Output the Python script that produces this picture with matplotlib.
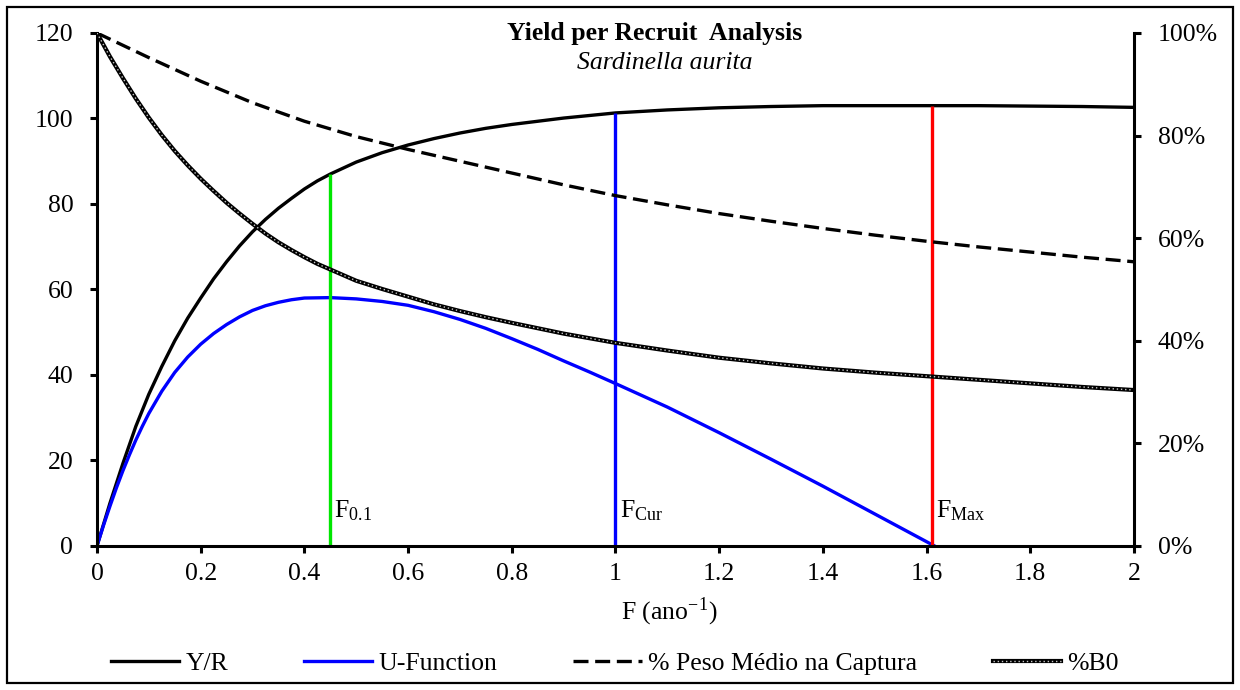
# -*- coding: utf-8 -*-

"""
yield per recruit plot for Sardinella aurita
"""

import matplotlib
matplotlib.use('Agg')
import matplotlib.pyplot as plt
from matplotlib.patches import Rectangle
from matplotlib.ticker import PercentFormatter, MultipleLocator

plt.rcParams['font.family'] = ['Liberation Serif', 'DejaVu Serif']
plt.rcParams['mathtext.fontset'] = 'stix'

FS = 18.5

# Y/R and %B0 share this F grid
f_grid = [0, 0.025, 0.05, 0.075, 0.1, 0.125, 0.15, 0.175, 0.2, 0.225, 0.25,
          0.275, 0.3, 0.325, 0.35, 0.375, 0.4, 0.425, 0.45, 0.5, 0.55, 0.6,
          0.65, 0.7, 0.75, 0.8, 0.9, 1.0, 1.1, 1.2, 1.3, 1.4, 1.5, 1.6, 1.7,
          1.8, 1.9, 2.0]
yield_rec = [0, 10, 19.3, 28, 35.5, 42, 48, 53.3, 58, 62.5, 66.5,
             70.2, 73.5, 76.4, 79, 81.3, 83.5, 85.4, 87, 89.8, 92, 93.8,
             95.3, 96.6, 97.7, 98.6, 100.1, 101.3, 102, 102.5, 102.8, 103,
             103, 103, 103, 102.9, 102.8, 102.6]
b0_pct = [100, 95.4, 91.2, 87.2, 83.5, 80.1, 77.0, 74.2, 71.6, 69.2, 66.9,
          64.8, 62.8, 60.9, 59.2, 57.7, 56.3, 55, 53.9, 51.7, 50.1, 48.6,
          47.1, 45.8, 44.6, 43.5, 41.4, 39.6, 38.1, 36.7, 35.6, 34.6,
          33.8, 33.1, 32.4, 31.7, 31.0, 30.4]

# U-function stops just past F max
f_u = [0, 0.0125, 0.025, 0.0375, 0.05, 0.0625, 0.075, 0.0875, 0.1, 0.125,
       0.15, 0.175, 0.2, 0.225, 0.25, 0.275, 0.3, 0.325, 0.35, 0.375, 0.4,
       0.45, 0.5, 0.55, 0.6, 0.65, 0.7, 0.75, 0.8, 0.85, 0.9, 0.95, 1.0, 1.1,
       1.2, 1.3, 1.4, 1.5, 1.6, 1.64]
u_func = [0, 4.8, 9.3, 13.6, 17.6, 21.3, 24.8, 28, 31, 36.2, 40.6, 44.2,
          47.2, 49.7, 51.8, 53.6, 55.1, 56.2, 57.0, 57.6, 58, 58.1, 57.8,
          57.2, 56.3, 54.8, 53, 50.9, 48.5, 46, 43.3, 40.7, 38, 32.5, 26.5,
          20.3, 14, 7.5, 1, -1.6]

f_peso = [0, 0.1, 0.2, 0.3, 0.4, 0.5, 0.6, 0.7, 0.8, 0.9, 1.0, 1.1, 1.2, 1.3,
          1.4, 1.5, 1.6, 1.7, 1.8, 1.9, 2.0]
peso_pct = [100, 95.2, 90.6, 86.4, 82.8, 79.8, 77.3, 75, 72.7, 70.4, 68.3,
            66.5, 64.8, 63.3, 61.9, 60.6, 59.4, 58.3, 57.3, 56.3, 55.4]

# reference points
ref_f = [0.45, 1.0, 1.61]
ref_top = [87, 101.3, 103]
ref_names = ['0.1', 'Cur', 'Max']
ref_colors = ['#00E600', '#0000FF', '#FF0000']

fig = plt.figure(figsize=(12.4, 6.9), dpi=100)
ax = fig.add_axes([0.0782, 0.2087, 0.8363, 0.7435])
ax2 = ax.twinx()

l_yr, = ax.plot(f_grid, yield_rec, color='black', lw=2.4, label='Y/R')
l_u, = ax.plot(f_u, u_func, color='#0000FF', lw=2.4, label='U-Function')
ax.vlines(ref_f, 0, ref_top, colors=ref_colors, lw=2.4)
for f, name in zip(ref_f, ref_names):
    ax.text(f + 0.008, 6.8, r'F$_{\mathregular{%s}}$' % name, fontsize=FS,
            ha='left', va='baseline')

l_peso, = ax2.plot(f_peso, [p / 100 for p in peso_pct], color='black',
                   lw=2.4, ls=(0, (4.5, 2.0)), label='% Peso Médio na Captura')
ax2.plot(f_grid, [p / 100 for p in b0_pct], color='black', lw=3.0)
ax2.plot(f_grid, [p / 100 for p in b0_pct], color='#C8C8C8', lw=1.0,
         ls=(0, (1, 2)))
l_b0 = (plt.Line2D([], [], color='black', lw=3.0),
        plt.Line2D([], [], color='#C8C8C8', lw=1.0, ls=(0, (1, 2))))

ax.set_xlim(0, 2)
ax.set_ylim(0, 120)
ax2.set_ylim(0, 1)
ax.xaxis.set_major_locator(MultipleLocator(0.2))
ax.yaxis.set_major_locator(MultipleLocator(20))
ax2.yaxis.set_major_locator(MultipleLocator(0.2))
ax2.yaxis.set_major_formatter(PercentFormatter(1.0, decimals=0))
ax.xaxis.set_major_formatter(plt.FuncFormatter(lambda v, p: '%g' % round(v, 1)))

for a in (ax, ax2):
    a.spines['top'].set_visible(False)
    for s in ('left', 'right', 'bottom'):
        a.spines[s].set_linewidth(2.2)
    a.tick_params(direction='out', length=5, width=2.2, labelsize=FS)
ax.spines['right'].set_visible(False)
ax2.spines['left'].set_visible(False)
ax2.spines['bottom'].set_visible(False)
ax.tick_params(axis='y', pad=12)
ax.tick_params(axis='x', pad=7)
ax2.tick_params(axis='y', pad=12)

fig.text(669 / 1240, 0.113, r'F (ano$^{\mathregular{-1}}$)', fontsize=FS,
         ha='center', va='center')

fig.text(0.528, 0.952, 'Yield per Recruit  Analysis', ha='center',
         va='center', fontsize=FS, fontweight='bold')
fig.text(0.536, 0.909, 'Sardinella aurita', ha='center', va='center',
         fontsize=FS, style='italic')

fig.legend([l_yr, l_u, l_peso, l_b0],
           ['Y/R', 'U-Function', '% Peso Médio na Captura', '%B0'],
           loc='center', bbox_to_anchor=(0.496, 0.039), ncol=4, frameon=False,
           fontsize=FS, handlelength=2.65, handletextpad=0.25,
           columnspacing=2.95)

# outer chart border
fig.patches.append(Rectangle((7 / 1240, 7 / 690), 1226 / 1240, 676 / 690,
                             transform=fig.transFigure, fill=False,
                             edgecolor='black', lw=1.6))

fig.savefig('out.png', dpi=100)
